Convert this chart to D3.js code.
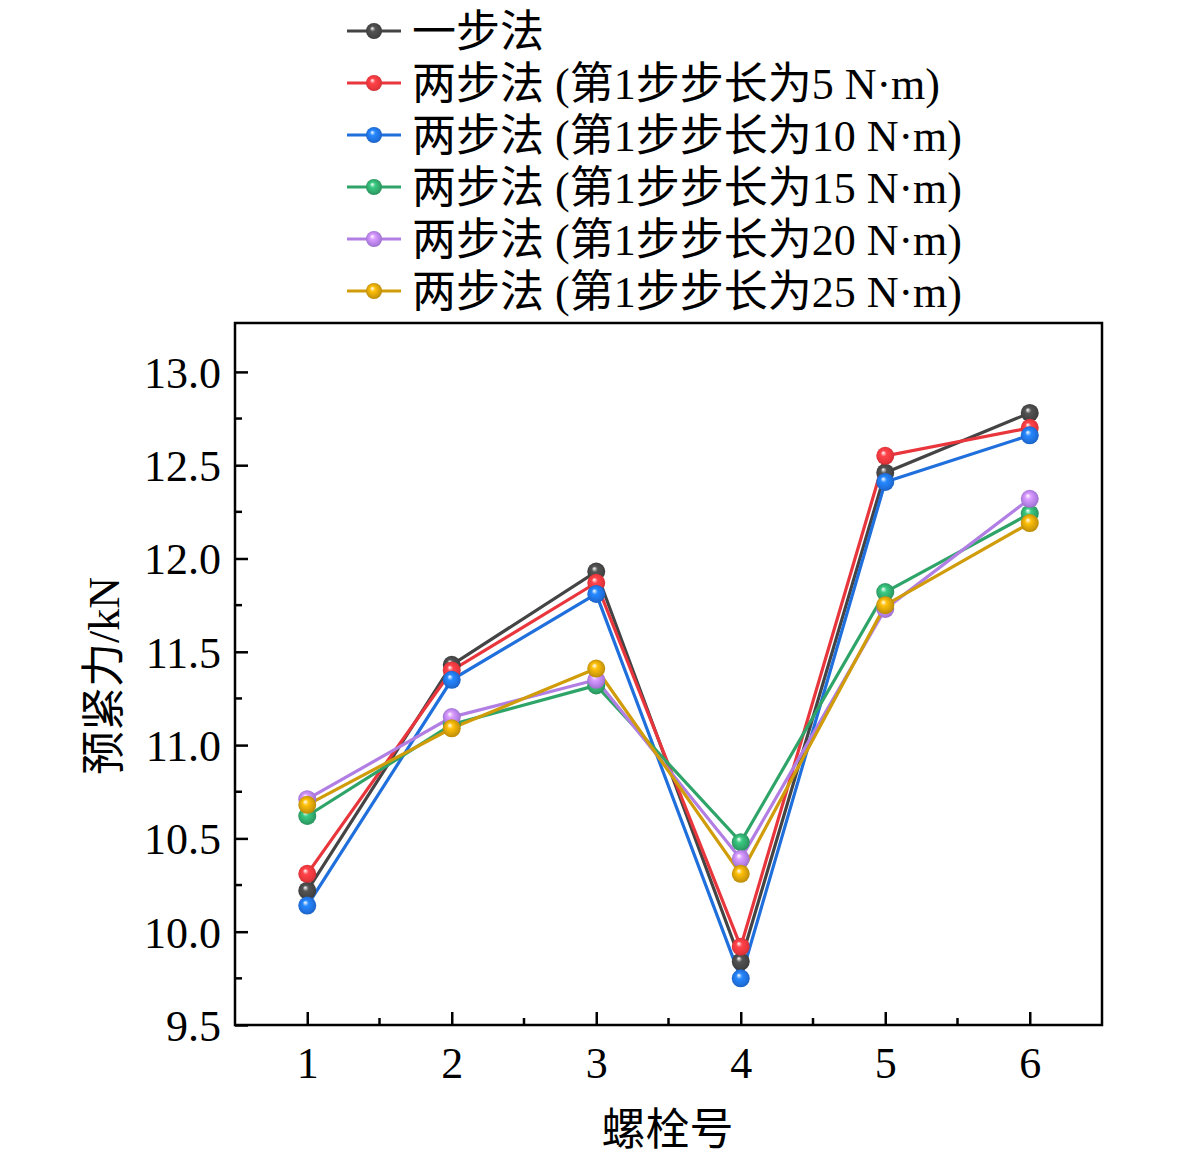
<!DOCTYPE html>
<html>
<head>
<meta charset="utf-8">
<script src="https://cdn.jsdelivr.net/npm/d3@7"></script>
<style>
  body { margin: 0; background: #fff; }
  svg text { font-family: "Liberation Serif", "Times New Roman", "Noto Sans CJK SC", serif; fill: #000; }
</style>
</head>
<body>
<div id="chart"></div>
<script>
// bolt numbers on the x axis
const bolts = [1, 2, 3, 4, 5, 6];

// preload force per bolt, kN
const oneStep = [10.22, 11.43, 11.93, 9.84, 12.46, 12.78];
const twoStep5 = [10.31, 11.40, 11.87, 9.92, 12.55, 12.70];
const twoStep10 = [10.14, 11.35, 11.81, 9.75, 12.41, 12.66];
const twoStep15 = [10.62, 11.11, 11.32, 10.48, 11.82, 12.24];
const twoStep20 = [10.71, 11.15, 11.35, 10.39, 11.73, 12.32];
const twoStep25 = [10.68, 11.09, 11.41, 10.31, 11.75, 12.19];

const seriesNames = [
    '一步法',
    '两步法 (第1步步长为5 N·m)',
    '两步法 (第1步步长为10 N·m)',
    '两步法 (第1步步长为15 N·m)',
    '两步法 (第1步步长为20 N·m)',
    '两步法 (第1步步长为25 N·m)'
];
const seriesColors = ['#444444', '#e8363c', '#1f6fdc', '#2fa469', '#b17ee3', '#d19c09'];
const yTicks = [9.5, 10.0, 10.5, 11.0, 11.5, 12.0, 12.5, 13.0];

const allSeries = [oneStep, twoStep5, twoStep10, twoStep15, twoStep20, twoStep25];

const width = 1181;
const height = 1165;
const plot = { left: 235, right: 1102, top: 323, bottom: 1025 };

const svg = d3.select('#chart').append('svg')
    .attr('width', width)
    .attr('height', height);

const x = d3.scaleLinear().domain([0.5, 6.5]).range([plot.left, plot.right]);
const y = d3.scaleLinear().domain([9.5, 13.262]).range([plot.bottom, plot.top]);

// sphere-like gradients for the markers
const defs = svg.append('defs');
seriesColors.forEach((c, i) => {
    const g = defs.append('radialGradient')
        .attr('id', 'ball' + i)
        .attr('cx', '50%').attr('cy', '50%').attr('r', '55%')
        .attr('fx', '38%').attr('fy', '32%');
    g.append('stop').attr('offset', '0%').attr('stop-color', '#ffffff');
    g.append('stop').attr('offset', '30%').attr('stop-color', d3.color(c).brighter(0.6));
    g.append('stop').attr('offset', '75%').attr('stop-color', c);
    g.append('stop').attr('offset', '100%').attr('stop-color', d3.color(c).darker(0.5));
});

// frame
svg.append('rect')
    .attr('x', plot.left).attr('y', plot.top)
    .attr('width', plot.right - plot.left).attr('height', plot.bottom - plot.top)
    .attr('fill', 'none').attr('stroke', '#000').attr('stroke-width', 2.5);

// y axis, ticks inward
const yAxis = svg.append('g').attr('transform', `translate(${plot.left},0)`)
    .call(d3.axisLeft(y).tickValues(yTicks).tickSize(-13).tickPadding(14).tickFormat(d3.format('.1f')));
yAxis.select('.domain').remove();
yAxis.selectAll('line').attr('stroke', '#000').attr('stroke-width', 2.5);
yAxis.selectAll('text').attr('font-size', 44).attr('dy', '0.35em');
const yMinor = d3.range(9.75, 13.1, 0.5);
svg.append('g').selectAll('line').data(yMinor).join('line')
    .attr('x1', plot.left).attr('x2', plot.left + 7)
    .attr('y1', d => y(d)).attr('y2', d => y(d))
    .attr('stroke', '#000').attr('stroke-width', 2.5);

// x axis, ticks inward
const xAxis = svg.append('g').attr('transform', `translate(0,${plot.bottom})`)
    .call(d3.axisBottom(x).tickValues(bolts).tickSize(-13).tickPadding(22).tickFormat(d3.format('d')));
xAxis.select('.domain').remove();
xAxis.selectAll('line').attr('stroke', '#000').attr('stroke-width', 2.5);
xAxis.selectAll('text').attr('font-size', 44).attr('dy', '0.71em');
const xMinor = d3.range(1.5, 6, 1);
svg.append('g').selectAll('line').data(xMinor).join('line')
    .attr('x1', d => x(d)).attr('x2', d => x(d))
    .attr('y1', plot.bottom).attr('y2', plot.bottom - 7)
    .attr('stroke', '#000').attr('stroke-width', 2.5);

// axis titles
svg.append('text')
    .attr('transform', `translate(119,${(plot.top + plot.bottom) / 2 + 2}) rotate(-90)`)
    .attr('text-anchor', 'middle')
    .attr('font-size', 44)
    .text('预紧力/kN');
svg.append('text')
    .attr('x', (plot.left + plot.right) / 2 - 1)
    .attr('y', 1145)
    .attr('text-anchor', 'middle')
    .attr('font-size', 44)
    .text('螺栓号');

// lines and markers
const line = d3.line().x((d, i) => x(bolts[i])).y(d => y(d));
const seriesG = svg.append('g');
allSeries.forEach((vals, i) => {
    seriesG.append('path')
        .datum(vals)
        .attr('d', line)
        .attr('fill', 'none')
        .attr('stroke', seriesColors[i])
        .attr('stroke-width', 3.2);
});
allSeries.forEach((vals, i) => {
    seriesG.append('g').selectAll('circle').data(vals).join('circle')
        .attr('cx', (d, j) => x(bolts[j]))
        .attr('cy', d => y(d))
        .attr('r', 9)
        .attr('fill', `url(#ball${i})`);
});

// legend
const legend = svg.append('g');
seriesNames.forEach((name, i) => {
    const cy = 31 + i * 52;
    legend.append('line')
        .attr('x1', 347).attr('x2', 401)
        .attr('y1', cy).attr('y2', cy)
        .attr('stroke', seriesColors[i]).attr('stroke-width', 3.2);
    legend.append('circle')
        .attr('cx', 374).attr('cy', cy).attr('r', 8)
        .attr('fill', `url(#ball${i})`);
    legend.append('text')
        .attr('x', 412).attr('y', cy)
        .attr('dy', '0.36em')
        .attr('font-size', 44)
        .text(name);
});
</script>
</body>
</html>
